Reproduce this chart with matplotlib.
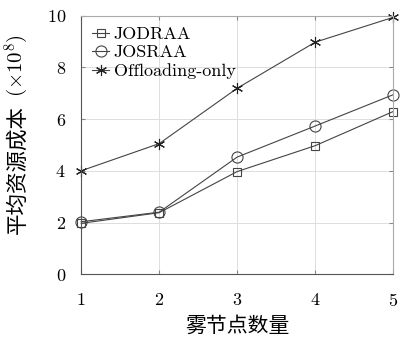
import matplotlib
matplotlib.use('Agg')
import matplotlib.pyplot as plt

# average resource cost vs number of fog nodes
nodes = [1, 2, 3, 4, 5]
jodraa = [1.97, 2.38, 3.97, 4.97, 6.29]
josraa = [2.03, 2.40, 4.53, 5.73, 6.94]
offload = [4.0, 5.05, 7.19, 8.97, 9.93]

plt.rcParams['font.family'] = ['cmr10', 'Noto Sans CJK SC']
plt.rcParams['mathtext.fontset'] = 'cm'
plt.rcParams['axes.formatter.use_mathtext'] = True

fig = plt.figure(figsize=(4.0, 3.45), dpi=100)
ax = fig.add_axes([0.203, 0.205, 0.78, 0.75])

lc = '#444444'
ax.plot(nodes, jodraa, color=lc, lw=0.8, marker='s', ms=6, mfc='none', mec=lc, mew=0.8,
        clip_on=False, label='JODRAA')
ax.plot(nodes, josraa, color=lc, lw=0.8, marker='o', ms=8, mfc='none', mec=lc, mew=0.8,
        clip_on=False, label='JOSRAA')
ax.plot(nodes, offload, color=lc, lw=0.8, marker=(6, 2, 0), ms=8, mec='#222222', mew=0.8,
        clip_on=False, label='Offloading-only')

ax.set_xlim(1, 5)
ax.set_ylim(0, 10)
ax.set_xticks(nodes)
ax.set_yticks([0, 2, 4, 6, 8, 10])
ax.grid(True, color='#dddddd', lw=0.7)
ax.tick_params(direction='in', top=True, right=True, length=3, labelsize=13, color='#888888')
ax.tick_params(axis='x', pad=13)
ax.tick_params(axis='y', pad=11)
for s in ['top', 'right']:
    ax.spines[s].set_color('#aaaaaa')
for s in ['left', 'bottom']:
    ax.spines[s].set_color('#555555')

ax.set_xlabel('雾节点数量', fontsize=15, labelpad=5, fontweight='light')

# y label: Chinese part and the unit drawn as separate pieces
fig.text(0.043, 0.51, '平均资源成本', rotation=90, fontsize=15.5, ha='center', va='center',
         family='Noto Sans CJK SC', fontweight='light')
fig.text(0.043, 0.81, r'$(\times 10^8)$', rotation=90, fontsize=15, ha='center', va='center')

ax.legend(loc='upper left', frameon=False, fontsize=13, handlelength=0.95, handletextpad=0.25,
          borderaxespad=0.5, labelspacing=0.15, borderpad=0.1)

fig.savefig('out.png', dpi=100)
